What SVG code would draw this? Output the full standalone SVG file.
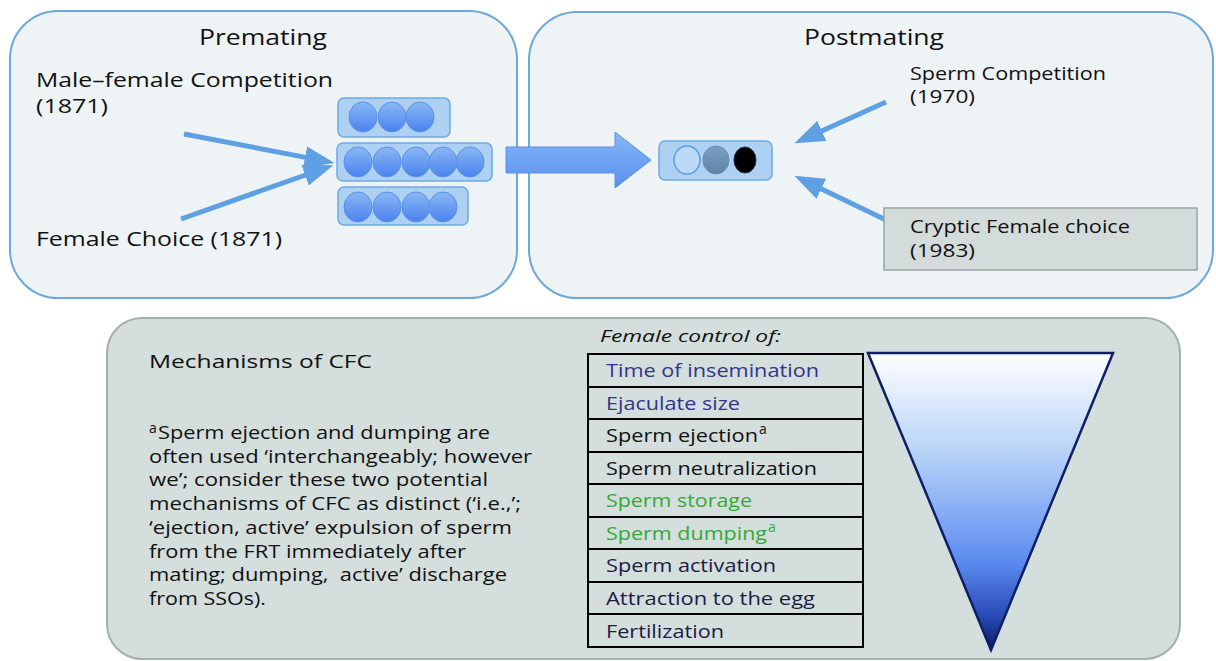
<svg xmlns="http://www.w3.org/2000/svg" width="1216" height="661" viewBox="0 0 1216 661">
<style>
  text { font-family: "Open Sans", "Noto Sans", "DejaVu Sans", sans-serif; fill: #111; }
  .panel { fill: #eef3f5; stroke: #6ea8d8; stroke-width: 2; }
  .title { font-size: 22px; }
  .lbl { font-size: 20px; }
  .lbl2 { font-size: 18px; }
  .para { font-size: 17.5px; }
  .row { fill: none; stroke: #000; stroke-width: 2; }
  .cell { font-size: 18px; }
  .sup { font-size: 14px; }
  .blue { fill: #34348e; }
  .green { fill: #36a836; }
  .navy { fill: #1c1c46; }
  .arrow { stroke: #5fa0e4; stroke-width: 5; fill: none; marker-end: url(#head); }
  .tray { fill: #aed0f2; stroke: #6eaae2; stroke-width: 1.5; }
  .egg { fill: url(#eggGrad); stroke: #5a92e4; stroke-width: 1; }
</style>
<defs>
  <marker id="head" markerUnits="userSpaceOnUse" markerWidth="32" markerHeight="24" viewBox="0 -12 32 24" refX="2" refY="0" orient="auto">
    <path d="M0,-11 L30,0 L0,11 Z" fill="#5fa0e4"/>
  </marker>
  <linearGradient id="eggGrad" x1="0" y1="0" x2="0" y2="1">
    <stop offset="0" stop-color="#8ab8f6"/>
    <stop offset="1" stop-color="#4a82ee"/>
  </linearGradient>
  <linearGradient id="bigArrow" x1="0" y1="0" x2="0" y2="1">
    <stop offset="0" stop-color="#86b8f8"/>
    <stop offset="1" stop-color="#5a8ef0"/>
  </linearGradient>
  <linearGradient id="grayEgg" x1="0" y1="0" x2="0" y2="1">
    <stop offset="0" stop-color="#7e9fc2"/>
    <stop offset="1" stop-color="#5f82aa"/>
  </linearGradient>
  <linearGradient id="funnel" x1="0" y1="0" x2="0" y2="1">
    <stop offset="0" stop-color="#ffffff"/>
    <stop offset="0.35" stop-color="#b4d0f8"/>
    <stop offset="0.7" stop-color="#5d8cf0"/>
    <stop offset="0.88" stop-color="#2a4cb8"/>
    <stop offset="1" stop-color="#0a1a66"/>
  </linearGradient>
</defs>

<g id="premating-panel">
  <rect class="panel" x="10" y="11" width="507" height="287" rx="48"/>
  <text class="title" x="199" y="45" textLength="128" lengthAdjust="spacingAndGlyphs">Premating</text>
</g>

<g id="postmating-panel">
  <rect class="panel" x="529" y="12" width="684" height="286" rx="48"/>
  <text class="title" x="804" y="45" textLength="140" lengthAdjust="spacingAndGlyphs">Postmating</text>
</g>

<g id="cfc-panel">
  <rect x="107" y="318" width="1073" height="341" rx="35" fill="#d3dedd" stroke="#a3afae" stroke-width="2"/>
</g>

<g id="connectors">
  <line class="arrow" x1="184" y1="134" x2="307" y2="157.6"/>
  <line class="arrow" x1="181" y1="219" x2="307" y2="174.5"/>
  <line class="arrow" x1="886" y1="102" x2="820" y2="131.7"/>
  <line class="arrow" x1="886" y1="220" x2="819.5" y2="187.9"/>
  <polygon points="506,147 615,147 615,132 651,160 615,188 615,173 506,173" fill="url(#bigArrow)" stroke="#5c92e2" stroke-width="1"/>
</g>

<g id="male-female-competition">
  <text class="lbl" x="36" y="87" textLength="297" lengthAdjust="spacingAndGlyphs">Male–female Competition</text>
  <text class="lbl" x="36" y="113" textLength="72" lengthAdjust="spacingAndGlyphs">(1871)</text>
</g>

<g id="female-choice">
  <text class="lbl" x="36" y="246" textLength="246" lengthAdjust="spacingAndGlyphs">Female Choice (1871)</text>
</g>

<g id="sperm-stack">
  <rect class="tray" x="338" y="98" width="112" height="39" rx="6"/>
  <ellipse class="egg" cx="363" cy="117" rx="14" ry="15"/>
  <ellipse class="egg" cx="392" cy="117" rx="14" ry="15"/>
  <ellipse class="egg" cx="420" cy="117" rx="14" ry="15"/>
  <rect class="tray" x="337" y="143" width="155" height="38" rx="6" fill="#a8cbee"/>
  <ellipse class="egg" cx="358" cy="162" rx="14" ry="15"/>
  <ellipse class="egg" cx="387" cy="162" rx="14" ry="15"/>
  <ellipse class="egg" cx="416" cy="162" rx="14" ry="15"/>
  <ellipse class="egg" cx="443" cy="162" rx="14" ry="15"/>
  <ellipse class="egg" cx="470" cy="162" rx="14" ry="15"/>
  <rect class="tray" x="338" y="187" width="130" height="38" rx="6"/>
  <ellipse class="egg" cx="358" cy="207" rx="14" ry="15"/>
  <ellipse class="egg" cx="387" cy="207" rx="14" ry="15"/>
  <ellipse class="egg" cx="416" cy="207" rx="14" ry="15"/>
  <ellipse class="egg" cx="443" cy="207" rx="14" ry="15"/>
</g>

<g id="sperm-ranked">
  <rect class="tray" x="659" y="141" width="113" height="39" rx="6"/>
  <ellipse cx="687" cy="160" rx="13" ry="14" fill="#bcdaf6" stroke="#5b9ee6" stroke-width="1.5"/>
  <ellipse cx="716" cy="160" rx="13" ry="14" fill="url(#grayEgg)" stroke="#6a8cb4" stroke-width="1"/>
  <ellipse cx="745" cy="160" rx="11" ry="13" fill="#000" stroke="#1a2a55" stroke-width="1"/>
</g>

<g id="sperm-competition">
  <text class="lbl2" x="910" y="80" textLength="196" lengthAdjust="spacingAndGlyphs">Sperm Competition</text>
  <text class="lbl2" x="910" y="103" textLength="65" lengthAdjust="spacingAndGlyphs">(1970)</text>
</g>

<g id="cryptic-female-choice">
  <rect x="884" y="208" width="313" height="62" fill="#d3dcdb" stroke="#9aa4a4" stroke-width="1.5"/>
  <text class="lbl2" x="910" y="233" textLength="220" lengthAdjust="spacingAndGlyphs">Cryptic Female choice</text>
  <text class="lbl2" x="910" y="257" textLength="65" lengthAdjust="spacingAndGlyphs">(1983)</text>
</g>

<g id="mechanisms-text">
  <text class="lbl2" x="149" y="368" textLength="223" lengthAdjust="spacingAndGlyphs">Mechanisms of CFC</text>
  <text class="sup" x="149" y="433">a</text>
  <text class="para" x="158" y="439" textLength="332" lengthAdjust="spacingAndGlyphs">Sperm ejection and dumping are</text>
  <text class="para" x="149" y="462.7" textLength="383" lengthAdjust="spacingAndGlyphs">often used ‘interchangeably; however</text>
  <text class="para" x="149" y="486.4" textLength="339" lengthAdjust="spacingAndGlyphs">we’; consider these two potential</text>
  <text class="para" x="149" y="510.1" textLength="372" lengthAdjust="spacingAndGlyphs">mechanisms of CFC as distinct (‘i.e.,’;</text>
  <text class="para" x="149" y="533.9" textLength="363" lengthAdjust="spacingAndGlyphs">‘ejection, active’ expulsion of sperm</text>
  <text class="para" x="149" y="557.6" textLength="317" lengthAdjust="spacingAndGlyphs">from the FRT immediately after</text>
  <text class="para" x="149" y="581.3" textLength="358" lengthAdjust="spacingAndGlyphs" style="white-space:pre">mating; dumping,  active’ discharge</text>
  <text class="para" x="149" y="605" textLength="117" lengthAdjust="spacingAndGlyphs">from SSOs).</text>
</g>

<g id="control-table">
  <text x="600" y="342" font-size="17" font-style="italic" textLength="181" lengthAdjust="spacingAndGlyphs">Female control of:</text>
  <rect class="row" x="588" y="354" width="275" height="33"/>
  <rect class="row" x="588" y="387" width="275" height="32"/>
  <rect class="row" x="588" y="419" width="275" height="33"/>
  <rect class="row" x="588" y="452" width="275" height="32"/>
  <rect class="row" x="588" y="484" width="275" height="33"/>
  <rect class="row" x="588" y="517" width="275" height="32"/>
  <rect class="row" x="588" y="549" width="275" height="33"/>
  <rect class="row" x="588" y="582" width="275" height="32"/>
  <rect class="row" x="588" y="614" width="275" height="33"/>
  <text class="cell blue" x="606" y="377" textLength="213" lengthAdjust="spacingAndGlyphs">Time of insemination</text>
  <text class="cell blue" x="606" y="410" textLength="134" lengthAdjust="spacingAndGlyphs">Ejaculate size</text>
  <text class="cell" x="606" y="442" textLength="152" lengthAdjust="spacingAndGlyphs">Sperm ejection</text>
  <text class="sup" x="759" y="434">a</text>
  <text class="cell" x="606" y="475" textLength="211" lengthAdjust="spacingAndGlyphs">Sperm neutralization</text>
  <text class="cell green" x="606" y="507" textLength="146" lengthAdjust="spacingAndGlyphs">Sperm storage</text>
  <text class="cell green" x="606" y="540" textLength="161" lengthAdjust="spacingAndGlyphs">Sperm dumping</text>
  <text class="sup green" x="768" y="532">a</text>
  <text class="cell navy" x="606" y="572" textLength="170" lengthAdjust="spacingAndGlyphs">Sperm activation</text>
  <text class="cell navy" x="606" y="605" textLength="209" lengthAdjust="spacingAndGlyphs">Attraction to the egg</text>
  <text class="cell navy" x="606" y="638" textLength="118" lengthAdjust="spacingAndGlyphs">Fertilization</text>
</g>

<g id="control-gradient">
  <polygon points="868,353 1113,353 991,650" fill="url(#funnel)" stroke="#0f1f66" stroke-width="2.5" stroke-linejoin="miter"/>
</g>
</svg>
